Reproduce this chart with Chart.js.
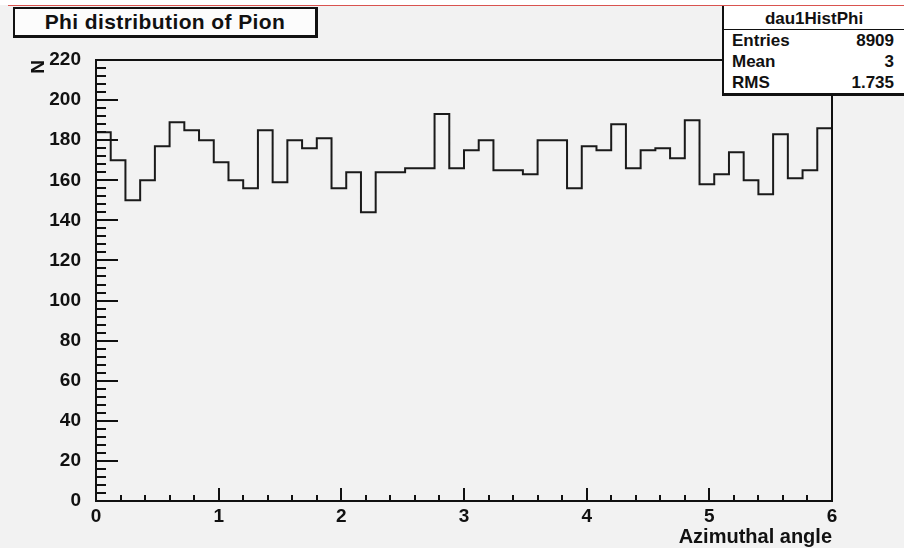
<!DOCTYPE html>
<html>
  <head>
    <title>Phi distribution of Pion</title>
    <script src="https://cdn.jsdelivr.net/npm/chart.js"></script>
    <style>
      body {
        margin: 0;
        width: 904px;
        height: 548px;
        overflow: hidden;
        position: relative;
        background: #f2f2f2;
        font-family: "Liberation Sans", Arial, sans-serif;
      }
      .chart-container {
        position: absolute;
        left: 0;
        top: 0;
        width: 904px;
        height: 548px;
      }
      #topStrip {
        position: absolute;
        left: 0;
        top: 0;
        width: 904px;
        height: 5px;
        background: #ffffff;
      }
      #redLine {
        position: absolute;
        left: 8px;
        top: 5px;
        width: 896px;
        height: 1px;
        background: #d9534f;
      }
      #titleBox {
        position: absolute;
        left: 13px;
        top: 7px;
        width: 300px;
        height: 26px;
        background: #fcfcfc;
        border: 2px solid #111;
        border-bottom-width: 3px;
        border-right-width: 3px;
        font-weight: bold;
        font-size: 21px;
        letter-spacing: 0.4px;
        line-height: 26px;
        text-align: center;
        color: #111;
      }
      #statsBox {
        position: absolute;
        left: 722px;
        top: 6px;
        width: 190px;
        height: 87px;
        background: #ffffff;
        border-left: 2px solid #111;
        border-bottom: 3px solid #111;
        font-weight: bold;
        font-size: 17px;
        color: #111;
      }
      #statsBox .head {
        width: 180px;
        text-align: center;
        height: 23px;
        line-height: 25px;
        border-bottom: 1.5px solid #111;
      }
      #statsBox .row {
        position: relative;
        height: 21px;
        line-height: 21px;
        width: 162px;
        padding-left: 8px;
      }
      #statsBox .row span {
        position: absolute;
        right: 0;
      }
    </style>
  </head>
  <body>
    <div class="chart-container">
      <canvas id="graph" width="904" height="548"></canvas>
    </div>
    <div id="topStrip"></div>
    <div id="redLine"></div>
    <div id="titleBox"></div>
    <div id="statsBox"></div>
    <script>
      const histTitle = "Phi distribution of Pion";
      const histName = "dau1HistPhi";
      const statsLabels = ["Entries", "Mean", "RMS"];
      const statsValues = ["8909", "3", "1.735"];

      const binLow = 0;
      const binHigh = 6;
      const counts = [
        184, 170, 150, 160, 177, 189, 185, 180, 169, 160,
        156, 185, 159, 180, 176, 181, 156, 164, 144, 164,
        164, 166, 166, 193, 166, 175, 180, 165, 165, 163,
        180, 180, 156, 177, 175, 188, 166, 175, 176, 171,
        190, 158, 163, 174, 160, 153, 183, 161, 165, 186,
      ];

      const xTicks = [0, 1, 2, 3, 4, 5, 6];
      const yTicks = [0, 20, 40, 60, 80, 100, 120, 140, 160, 180, 200, 220];
      const xMinorStep = 0.2;
      const yMinorStep = 4;

      document.getElementById("titleBox").textContent = histTitle;
      let statsHtml = '<div class="head">' + histName + "</div>";
      statsLabels.forEach((l, i) => {
        statsHtml +=
          '<div class="row">' + l + "<span>" + statsValues[i] + "</span></div>";
      });
      document.getElementById("statsBox").innerHTML = statsHtml;

      // bin left edges plus closing point at the upper edge
      const binWidth = (binHigh - binLow) / counts.length;
      const points = counts.map((c, i) => ({ x: binLow + i * binWidth, y: c }));
      points.push({ x: binHigh, y: counts[counts.length - 1] });

      // ROOT style frame with ticks drawn inside
      const rootFrame = {
        id: "rootFrame",
        afterDraw(chart) {
          const { ctx, chartArea: a, scales } = chart;
          ctx.save();
          ctx.strokeStyle = "#111";
          ctx.lineWidth = 2;
          ctx.strokeRect(a.left, a.top, a.right - a.left, a.bottom - a.top);

          ctx.beginPath();
          const ys = scales.y;
          for (let v = ys.min; v <= ys.max + 1e-9; v += yMinorStep) {
            const py = Math.round(ys.getPixelForValue(v));
            const len = yTicks.includes(Math.round(v)) ? 22 : 10;
            ctx.moveTo(a.left, py);
            ctx.lineTo(a.left + len, py);
          }
          const xs = scales.x;
          const n = Math.round((xs.max - xs.min) / xMinorStep);
          for (let k = 0; k <= n; k++) {
            const v = xs.min + k * xMinorStep;
            const px = Math.round(xs.getPixelForValue(v));
            const major = xTicks.some((t) => Math.abs(t - v) < 1e-6);
            ctx.moveTo(px, a.bottom);
            ctx.lineTo(px, a.bottom - (major ? 13 : 6));
          }
          ctx.stroke();
          ctx.restore();
        },
      };

      const tickFont = { family: "Liberation Sans", size: 19, weight: "bold" };

      new Chart(document.getElementById("graph").getContext("2d"), {
        type: "line",
        data: {
          datasets: [
            {
              label: histName,
              data: points,
              stepped: true,
              borderColor: "#1a1a1a",
              borderWidth: 2,
              pointRadius: 0,
              fill: false,
            },
          ],
        },
        options: {
          responsive: false,
          animation: false,
          devicePixelRatio: 1,
          layout: { padding: { left: 0, top: 60, right: 72, bottom: 0 } },
          plugins: {
            legend: { display: false },
            tooltip: { enabled: false },
          },
          scales: {
            x: {
              type: "linear",
              min: binLow,
              max: binHigh,
              afterBuildTicks: (s) => {
                s.ticks = xTicks.map((v) => ({ value: v }));
              },
              afterFit: (s) => {
                s.height = 47;
              },
              grid: { display: false },
              border: { display: false },
              ticks: {
                color: "#111",
                font: tickFont,
                padding: -4,
                maxRotation: 0,
                autoSkip: false,
              },
              title: {
                display: true,
                text: "Azimuthal angle",
                align: "end",
                color: "#111",
                font: { family: "Liberation Sans", size: 20, weight: "bold" },
                padding: { top: 0, bottom: -1 },
              },
            },
            y: {
              min: 0,
              max: 220,
              afterBuildTicks: (s) => {
                s.ticks = yTicks.map((v) => ({ value: v }));
              },
              afterFit: (s) => {
                s.width = 96;
              },
              grid: { display: false },
              border: { display: false },
              ticks: {
                color: "#111",
                font: tickFont,
                padding: 7,
                autoSkip: false,
              },
              title: {
                display: true,
                text: "N",
                align: "end",
                color: "#111",
                font: { family: "Liberation Sans", size: 19, weight: "bold" },
                padding: { top: 27, bottom: 0 },
              },
            },
          },
        },
        plugins: [rootFrame],
      });
    </script>
  </body>
</html>
